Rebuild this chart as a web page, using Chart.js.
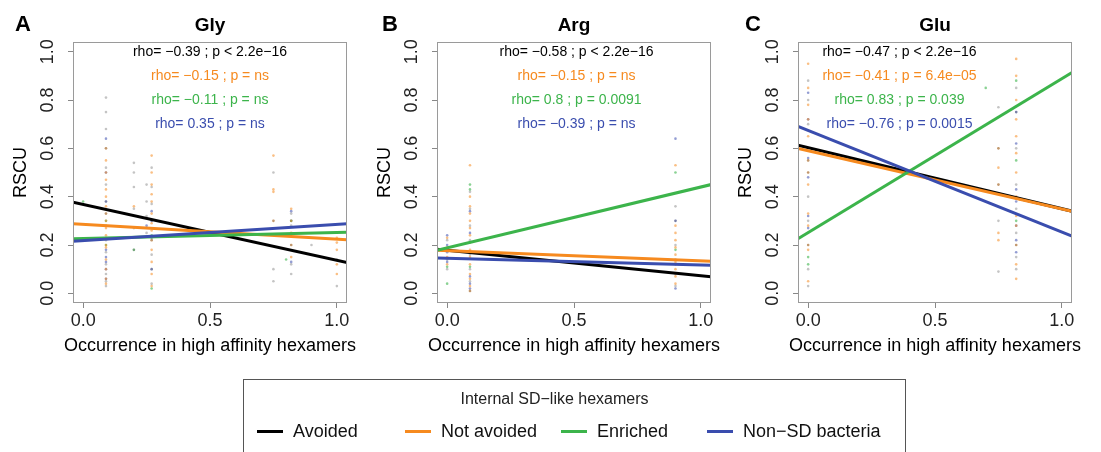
<!DOCTYPE html>
<html lang="en">
<head>
<meta charset="UTF-8">
<title>RSCU vs occurrence in high affinity hexamers</title>
<script src="https://cdn.jsdelivr.net/npm/chart.js"></script>
<style>
    body { margin: 0; background: #fff; font-family: "Liberation Sans", Arial, sans-serif; }
    #wrap { position: relative; width: 1101px; height: 452px; overflow: hidden; }
    #wrap canvas { position: absolute; left: 0; top: 0; }
    .legend { position: absolute; left: 243px; top: 379px; width: 663px; height: 110px;
              border: 1.5px solid #555; box-sizing: border-box; }
    .legend-title { position: absolute; left: 0; top: 10px; width: 100%; text-align: center;
                    font-size: 16px; color: #222; padding-right: 40px; box-sizing: border-box; }
    .item { position: absolute; top: 41px; font-size: 18px; color: #111; white-space: nowrap; }
    .swatch { display: inline-block; width: 26px; height: 3px; vertical-align: middle;
              margin-right: 10px; position: relative; top: -1px; }
</style>
</head>
<body>
<div id="wrap">
    <canvas id="gly" width="1101" height="452"></canvas>
    <canvas id="arg" width="1101" height="452"></canvas>
    <canvas id="glu" width="1101" height="452"></canvas>
    <div class="legend" id="legend">
        <div class="legend-title">Internal SD−like hexamers</div>
    </div>
</div>

<script>
// groups
const groupNames = ['Avoided', 'Not avoided', 'Enriched', 'Non−SD bacteria'];
const lineColors = ['#000000', '#F68A1F', '#3CB44B', '#3A4DAE'];
const pointColors = ['rgba(60,60,60,0.3)', 'rgba(246,138,31,0.55)', 'rgba(60,180,75,0.6)', 'rgba(58,77,174,0.55)'];

// axes
const xTicks = [0, 0.5, 1];
const xTickLabels = ['0.0', '0.5', '1.0'];
const yTicks = [0, 0.2, 0.4, 0.6, 0.8, 1.0];
const yTickLabels = ['0.0', '0.2', '0.4', '0.6', '0.8', '1.0'];
const xTitle = 'Occurrence in high affinity hexamers';
const yTitle = 'RSCU';

// rho annotation rows (y in data units)
const rhoY = [1.0, 0.9, 0.8, 0.7];

// fitted lines: RSCU at left edge (x=-0.04) and right edge (x=1.04), order = groups
const glyLineStart = [0.377, 0.288, 0.226, 0.216];
const glyLineEnd   = [0.127, 0.222, 0.253, 0.288];
const argLineStart = [0.182, 0.178, 0.178, 0.146];
const argLineEnd   = [0.069, 0.133, 0.450, 0.116];
const gluLineStart = [0.613, 0.599, 0.226, 0.691];
const gluLineEnd   = [0.340, 0.340, 0.914, 0.237];

const glyRho = ['rho= −0.39 ; p < 2.2e−16', 'rho= −0.15 ; p = ns', 'rho= −0.11 ; p = ns', 'rho= 0.35 ; p = ns'];
const argRho = ['rho= −0.58 ; p < 2.2e−16', 'rho= −0.15 ; p = ns', 'rho= 0.8 ; p = 0.0091', 'rho= −0.39 ; p = ns'];
const gluRho = ['rho= −0.47 ; p < 2.2e−16', 'rho= −0.41 ; p = 6.4e−05', 'rho= 0.83 ; p = 0.039', 'rho= −0.76 ; p = 0.0015'];

// scatter points, per column: [occurrence, [RSCU values]]
const glyAvoided = [[0.09, [0.03, 0.05, 0.08, 0.12, 0.17, 0.22, 0.28, 0.33, 0.38, 0.45, 0.52, 0.6, 0.68, 0.75, 0.81]],
                    [0.2, [0.18, 0.27, 0.35, 0.44, 0.5, 0.54]], [0.25, [0.25, 0.32, 0.38, 0.45]],
                    [0.27, [0.04, 0.1, 0.16, 0.22, 0.3, 0.37, 0.44, 0.52]], [0.75, [0.05, 0.1, 0.3, 0.5]],
                    [0.82, [0.08, 0.12, 0.2, 0.28, 0.33]], [0.9, [0.2]], [1.0, [0.03, 0.14]]];
const glyNotAvoided = [[0.09, [0.04, 0.06, 0.1, 0.14, 0.19, 0.2, 0.24, 0.27, 0.3, 0.33, 0.36, 0.4, 0.43, 0.47, 0.5, 0.55, 0.6]],
                       [0.2, [0.36]], [0.27, [0.03, 0.08, 0.13, 0.18, 0.22, 0.26, 0.29, 0.33, 0.38, 0.41, 0.45, 0.5, 0.57]],
                       [0.75, [0.3, 0.42, 0.43, 0.57]], [0.82, [0.15, 0.2, 0.25, 0.3, 0.35]], [1.0, [0.08, 0.12, 0.18, 0.21, 0.23]]];
const glyEnriched = [[0.0, [0.38]], [0.09, [0.2, 0.3]], [0.2, [0.18]], [0.27, [0.02, 0.24]], [0.8, [0.14]], [0.82, [0.3]]];
const glyNonSD = [[0.09, [0.06, 0.1, 0.13, 0.15, 0.18, 0.38, 0.5, 0.64]], [0.25, [0.28]],
                  [0.27, [0.1, 0.23, 0.3, 0.34]], [0.82, [0.13, 0.3, 0.34]]];

const argAvoided = [[0.0, [0.1, 0.14, 0.18, 0.22]], [0.09, [0.01, 0.05, 0.1, 0.16, 0.22, 0.28, 0.35, 0.42]],
                    [0.9, [0.03, 0.08, 0.14, 0.2, 0.3, 0.36]]];
const argNotAvoided = [[0.0, [0.12, 0.15, 0.19, 0.23]],
                       [0.09, [0.01, 0.03, 0.06, 0.08, 0.12, 0.15, 0.18, 0.21, 0.24, 0.27, 0.3, 0.33, 0.36, 0.4, 0.53]],
                       [0.9, [0.04, 0.07, 0.1, 0.13, 0.16, 0.19, 0.22, 0.25, 0.28, 0.53]]];
const argEnriched = [[0.0, [0.04, 0.11]], [0.09, [0.11, 0.17, 0.43, 0.45]], [0.9, [0.18, 0.5]]];
const argNonSD = [[0.0, [0.13, 0.17, 0.2, 0.24]], [0.09, [0.02, 0.04, 0.07, 0.25, 0.34]], [0.9, [0.02, 0.12, 0.3, 0.64]]];

const gluAvoided = [[0.0, [0.03, 0.1, 0.2, 0.3, 0.4, 0.5, 0.55, 0.6, 0.7, 0.8, 0.88]], [0.75, [0.09, 0.3, 0.45, 0.6, 0.77]],
                    [0.82, [0.1, 0.15, 0.2, 0.25, 0.35, 0.45, 0.6, 0.75, 0.85]]];
const gluNotAvoided = [[0.0, [0.05, 0.18, 0.2, 0.28, 0.33, 0.45, 0.5, 0.55, 0.65, 0.72, 0.78, 0.85, 0.95]],
                       [0.75, [0.22, 0.25, 0.45, 0.52, 0.6]],
                       [0.82, [0.06, 0.12, 0.2, 0.28, 0.32, 0.4, 0.5, 0.58, 0.65, 0.72, 0.8, 0.9, 0.97]]];
const gluEnriched = [[0.0, [0.12, 0.15]], [0.7, [0.85]], [0.82, [0.3, 0.55, 0.88]]];
const gluNonSD = [[0.0, [0.27, 0.32, 0.48, 0.56, 0.72, 0.83]], [0.82, [0.17, 0.22, 0.28, 0.38, 0.43, 0.62, 0.75]]];

const FONT = '"Liberation Sans", Arial, sans-serif';
const X_MIN = -0.04, X_MAX = 1.04;

function expand(cols) {
    const out = [];
    cols.forEach(([x, ys]) => ys.forEach(y => out.push({ x: x, y: y })));
    return out;
}

// box, title, panel letter, x title and rho lines
const panelText = {
    id: 'panelText',
    afterDraw(chart, args, o) {
        const { ctx, chartArea: a, scales: { x, y } } = chart;
        const cx = (a.left + a.right) / 2;
        ctx.save();
        ctx.strokeStyle = '#9a9a9a';
        ctx.lineWidth = 1;
        ctx.strokeRect(a.left + 0.5, a.top + 0.5, a.width - 1, a.height - 1);
        ctx.textAlign = 'center';
        ctx.textBaseline = 'middle';
        ctx.fillStyle = '#000';
        ctx.font = 'bold 19px ' + FONT;
        ctx.fillText(o.title, cx, a.top - 16);
        ctx.font = 'bold 22px ' + FONT;
        ctx.fillText(o.letter, a.left - o.letterOffset, a.top - 17);
        ctx.font = '18px ' + FONT;
        ctx.fillText(xTitle, cx, a.bottom + 43);
        ctx.font = '14px ' + FONT;
        o.rho.forEach((t, i) => {
            ctx.fillStyle = lineColors[i];
            ctx.fillText(t, x.getPixelForValue(o.textX), y.getPixelForValue(rhoY[i]));
        });
        ctx.restore();
    }
};

function makePanel(id, left, title, letter, letterOffset, textX, groups, starts, ends, rho) {
    const datasets = [];
    groups.forEach((g, i) => {
        datasets.push({
            type: 'line',
            label: groupNames[i],
            data: [{ x: X_MIN, y: starts[i] }, { x: X_MAX, y: ends[i] }],
            borderColor: lineColors[i],
            borderWidth: 3,
            pointRadius: 0,
            order: 4 - i
        });
    });
    groups.forEach((g, i) => {
        datasets.push({
            type: 'scatter',
            label: groupNames[i] + ' genomes',
            data: expand(g),
            backgroundColor: pointColors[i],
            borderWidth: 0,
            pointRadius: 1.3,
            order: 10
        });
    });
    const tickFont = { family: FONT, size: 18 };
    new Chart(document.getElementById(id), {
        type: 'scatter',
        data: { datasets: datasets },
        options: {
            responsive: false,
            animation: false,
            devicePixelRatio: 1,
            layout: { padding: { left: left - 68, right: 1101 - left - 274, top: 42, bottom: 95 } },
            plugins: {
                legend: { display: false },
                tooltip: { enabled: false },
                panelText: { title: title, letter: letter, letterOffset: letterOffset, textX: textX, rho: rho }
            },
            scales: {
                x: {
                    type: 'linear', position: 'bottom', min: X_MIN, max: X_MAX,
                    afterBuildTicks: s => { s.ticks = xTicks.map(v => ({ value: v })); },
                    afterFit: s => { s.height = 54; },
                    ticks: { font: tickFont, color: '#222', padding: 2, maxRotation: 0,
                             callback: (v, i) => xTickLabels[i] },
                    grid: { display: true, drawOnChartArea: false, drawTicks: true, tickLength: 5, color: '#888' },
                    border: { display: false }
                },
                y: {
                    type: 'linear', min: X_MIN, max: X_MAX,
                    afterBuildTicks: s => { s.ticks = yTicks.map(v => ({ value: v })); },
                    afterFit: s => { s.width = 68; },
                    ticks: { font: tickFont, color: '#222', padding: 7, minRotation: 90, maxRotation: 90,
                             crossAlign: 'center', callback: (v, i) => yTickLabels[i] },
                    grid: { display: true, drawOnChartArea: false, drawTicks: true, tickLength: 5, color: '#888' },
                    border: { display: false },
                    title: { display: true, text: yTitle, color: '#000', font: { family: FONT, size: 18 },
                             padding: { top: 5, bottom: 0 } }
                }
            }
        },
        plugins: [panelText]
    });
}

makePanel('gly', 73, 'Gly', 'A', 50, 0.5, [glyAvoided, glyNotAvoided, glyEnriched, glyNonSD], glyLineStart, glyLineEnd, glyRho);
makePanel('arg', 437, 'Arg', 'B', 47, 0.51, [argAvoided, argNotAvoided, argEnriched, argNonSD], argLineStart, argLineEnd, argRho);
makePanel('glu', 798, 'Glu', 'C', 45, 0.36, [gluAvoided, gluNotAvoided, gluEnriched, gluNonSD], gluLineStart, gluLineEnd, gluRho);

// shared legend
const legendLeft = [13, 161, 317, 463];
const legend = document.getElementById('legend');
groupNames.forEach((name, i) => {
    const el = document.createElement('div');
    el.className = 'item';
    el.style.left = legendLeft[i] + 'px';
    el.innerHTML = '<span class="swatch" style="background:' + lineColors[i] + '"></span>' + name;
    legend.appendChild(el);
});
</script>
</body>
</html>
